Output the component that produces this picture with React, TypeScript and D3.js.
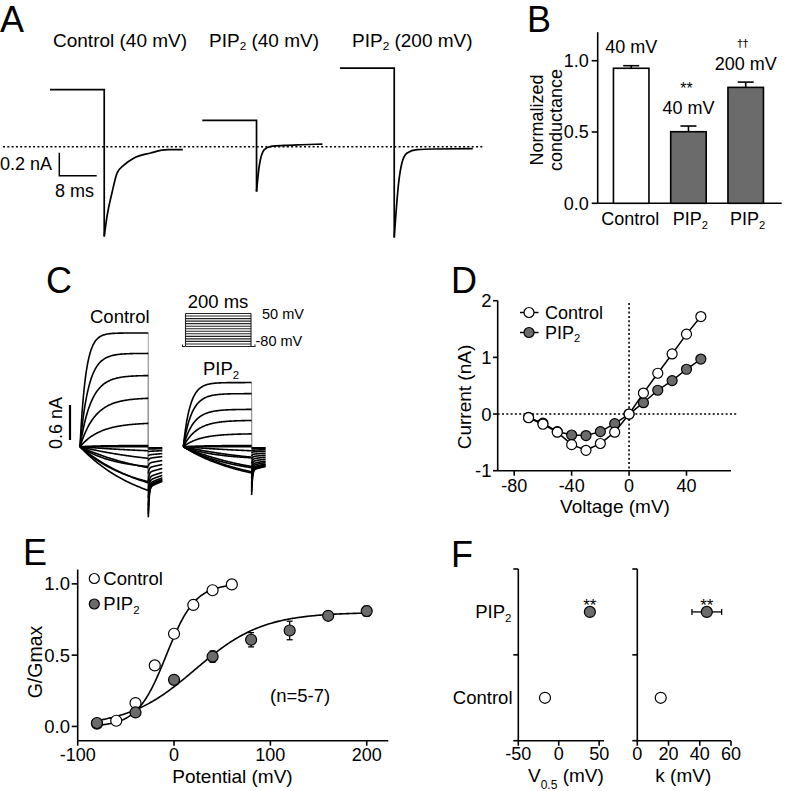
import React from 'react';
import * as d3 from 'd3';

const FONT = "'Liberation Sans', Arial, Helvetica, sans-serif";
const GRAY = '#6b6b6b';
const SW = 1.6;

// ---------------- Panel A: tail currents ----------------
const aTitleName = ['Control', 'PIP2', 'PIP2'];
const aTitleVolt = ['(40 mV)', '(40 mV)', '(200 mV)'];
const aSteadyNA = [0.496, 0.229, 0.684];
const aStepMs = [11.6, 11.6, 11.6];
const aTailMs = [
  [0, 0.58, 1.66, 2.75, 4.2, 6.3, 9.9, 13.5, 16.8],
  [0, 0.57, 1.66, 3.1, 6, 9.6, 14.1],
  [0, 0.93, 1.66, 2.75, 4.9, 8.5, 16.8],
];
const aTailNA = [
  [-0.78, -0.61, -0.4, -0.23, -0.16, -0.1, -0.055, -0.026, -0.026],
  [-0.39, -0.17, -0.026, 0.003, 0.011, 0.017, 0.023],
  [-0.79, -0.32, -0.14, -0.055, -0.026, -0.02, -0.017],
];
const aScaleNA = 0.2;
const aScaleMs = 8;

// ---------------- Panel B: normalized conductance ----------------
const bCats = ['Control', 'PIP2', 'PIP2'];
const bMeans = [0.947, 0.502, 0.813];
const bSems = [0.018, 0.04, 0.037];
const bVolt = ['40 mV', '40 mV', '200 mV'];
const bSig = ['', '**', '††'];
const bTicks = [0, 0.5, 1.0];

// ---------------- Panel C: current families ----------------
const cVolt = [-80, -70, -60, -50, -40, -30, -20, -10, 0, 10, 20, 30, 40, 50];
const cCtrlEnd = [0, -0.07, -0.2, -0.36, -0.62, -0.75, -0.6, -0.34, 0.02, 0.4, 0.83, 1.22, 1.6, 1.95];
const cCtrlTau = [300, 300, 250, 220, 200, 180, 150, 100, 60, 60, 45, 33, 25, 17];
const cCtrlTailSlow = [-0.02, -0.04, -0.08, -0.14, -0.2, -0.28, -0.36, -0.44, -0.52, -0.58, -0.63, -0.66, -0.68, -0.7];
const cCtrlTailFast = [0, 0, -0.01, -0.02, -0.04, -0.06, -0.1, -0.15, -0.22, -0.3, -0.38, -0.44, -0.48, -0.51];
const cPipEnd = [0, -0.07, -0.18, -0.34, -0.43, -0.45, -0.36, -0.19, 0.02, 0.22, 0.45, 0.64, 0.91, 1.1];
const cPipTau = [300, 300, 250, 220, 200, 180, 150, 100, 60, 50, 40, 30, 25, 20];
const cPipTailSlow = [-0.02, -0.03, -0.06, -0.09, -0.13, -0.17, -0.21, -0.25, -0.29, -0.32, -0.35, -0.37, -0.39, -0.4];
const cPipTailFast = [0, 0, -0.01, -0.02, -0.03, -0.05, -0.08, -0.12, -0.17, -0.22, -0.28, -0.33, -0.38, -0.43];
const cStepMs = 200;
const cTailMs = 41;
const cScaleNA = 0.6;

// ---------------- Panel D: I-V ----------------
const ivV = [-70, -60, -50, -40, -30, -20, -10, 0, 10, 20, 30, 40, 50];
const ivControl = [-0.065, -0.18, -0.32, -0.54, -0.64, -0.52, -0.32, 0, 0.37, 0.72, 1.06, 1.41, 1.72];
const ivPIP2 = [-0.06, -0.16, -0.31, -0.37, -0.38, -0.31, -0.17, 0, 0.2, 0.42, 0.59, 0.79, 0.97];
const dXTicks = [-80, -40, 0, 40];
const dYTicks = [-1, 0, 1, 2];

// ---------------- Panel E: G-V ----------------
const gvCtrlV = [-80, -60, -40, -20, 0, 20, 40, 60];
const gvCtrl = [0.02, 0.04, 0.164, 0.428, 0.65, 0.852, 0.955, 0.996];
const gvPipV = [-80, -40, 0, 40, 80, 120, 160, 200];
const gvPip = [0.024, 0.098, 0.327, 0.49, 0.608, 0.673, 0.776, 0.809];
const gvPipErr = [0.01, 0.01, 0.015, 0.04, 0.05, 0.065, 0.02, 0.035];
const fitCtrl = { gmax: 1, vh: -8, k: 15, from: -80, to: 60 };
const fitPip = { gmax: 0.8, vh: 22, k: 35, from: -80, to: 200 };
const eXTicks = [-100, 0, 100, 200];
const eYTicks = [0, 0.5, 1.0];

// ---------------- Panel F: Boltzmann parameters ----------------
const fCats = ['Control', 'PIP2'];
const fV05 = [-17, 38.5];
const fV05Err = [0, 3];
const fK = [15, 44.5];
const fKErr = [0, 9.5];
const fV05Ticks = [-50, 0, 50];
const fKTicks = [0, 20, 40, 60];

// ---------- helpers ----------
function PipText({ x, y, anchor = 'start', size = 18, rest = '' }: any) {
  const s = size * 0.62;
  const dy = size * 0.2;
  return (
    <text x={x} y={y} textAnchor={anchor} fontSize={size}>
      PIP
      <tspan fontSize={s} dy={dy}>2</tspan>
      {rest ? <tspan dy={-dy}>{rest}</tspan> : null}
    </text>
  );
}

function Letter({ x, y, t }: any) {
  return (
    <text x={x} y={y} fontSize={36}>
      {t}
    </text>
  );
}

function PanelA() {
  const y = d3.scaleLinear().domain([0, 1]).range([146.7, 31.7]);
  const origins = [50, 202.3, 340];
  const pxPerMs = 37.4 / 8;
  const titleX = [53, 209, 352];
  const tailLine = d3.line<[number, number]>().curve(d3.curveMonotoneX);
  return (
    <g>
      <Letter x={0} y={31.5} t="A" />
      {aTitleName.map((n, i) =>
        n === 'Control' ? (
          <text key={i} x={titleX[i]} y={46.5} fontSize={19}>
            {n} {aTitleVolt[i]}
          </text>
        ) : (
          <PipText key={i} x={titleX[i]} y={46.5} size={19} rest={' ' + aTitleVolt[i]} />
        )
      )}
      <line x1={3} x2={483} y1={y(0)} y2={y(0)} stroke="#000" strokeWidth={1.6} strokeDasharray="2 2.3" />
      {aSteadyNA.map((s, i) => {
        const x = (ms: number) => origins[i] + ms * pxPerMs;
        const T = aStepMs[i];
        const peak = aTailNA[i][0];
        const stepPath = `M${x(0)},${y(s)}L${x(T)},${y(s)}L${x(T)},${y(peak)}`;
        const pts: [number, number][] = aTailMs[i].map((t, j) => [x(T + t), y(aTailNA[i][j])]);
        return (
          <g key={i} fill="none" stroke="#000" strokeWidth={1.7}>
            <path d={stepPath} />
            <path d={tailLine(pts) || ''} />
          </g>
        );
      })}
      <path
        d={`M59.3,${175.7 - aScaleNA * 115}L59.3,175.7L${59.3 + aScaleMs * pxPerMs},175.7`}
        fill="none"
        stroke="#000"
        strokeWidth={1.5}
      />
      <text x={0} y={170} fontSize={18}>
        {aScaleNA} nA
      </text>
      <text x={55} y={196.5} fontSize={18}>
        {aScaleMs} ms
      </text>
    </g>
  );
}

function PanelB() {
  const y = d3.scaleLinear().domain([0, 1.2]).range([203.3, 32.2]);
  const x = d3.scalePoint<number>().domain([0, 1, 2]).range([631.2, 745.7]);
  const bw = 35.5;
  const ax = 597.7;
  return (
    <g>
      <Letter x={527} y={31.5} t="B" />
      <line x1={ax} x2={ax} y1={y(1.2)} y2={y(0)} stroke="#000" strokeWidth={SW} />
      <line x1={ax} x2={781.7} y1={y(0)} y2={y(0)} stroke="#000" strokeWidth={SW} />
      {bTicks.map((t) => (
        <g key={t}>
          <line x1={ax - 6} x2={ax} y1={y(t)} y2={y(t)} stroke="#000" strokeWidth={SW} />
          <text x={ax - 9} y={y(t)} dy="0.35em" textAnchor="end" fontSize={18}>
            {d3.format('.1f')(t)}
          </text>
        </g>
      ))}
      <text transform={`translate(543,120) rotate(-90)`} textAnchor="middle" fontSize={18}>
        Normalized
      </text>
      <text transform={`translate(561.5,120) rotate(-90)`} textAnchor="middle" fontSize={18}>
        conductance
      </text>
      {bMeans.map((m, i) => {
        const cx = x(i)!;
        const top = y(m + bSems[i]);
        return (
          <g key={i}>
            <line x1={cx} x2={cx} y1={y(m)} y2={top} stroke="#000" strokeWidth={SW} />
            <line x1={cx - 8} x2={cx + 8} y1={top} y2={top} stroke="#000" strokeWidth={SW} />
            <rect
              x={cx - bw / 2}
              y={y(m)}
              width={bw}
              height={y(0) - y(m)}
              fill={i === 0 ? '#fff' : GRAY}
              stroke="#000"
              strokeWidth={SW}
            />
            <text x={cx} y={top - 12.5} textAnchor="middle" fontSize={18}>
              {bVolt[i]}
            </text>
            {bSig[i] === '**' && (
              <text x={cx - 2} y={top - 32.5} textAnchor="middle" fontSize={16}>
                {bSig[i]}
              </text>
            )}
            {bSig[i] === '††' && (
              <text
                x={cx - 3}
                y={top - 35}
                textAnchor="middle"
                fontSize={11}
                fill="#000"
                fontFamily="'DejaVu Sans', sans-serif"
              >
                {bSig[i]}
              </text>
            )}
            {bCats[i] === 'Control' ? (
              <text x={cx - 1} y={225} textAnchor="middle" fontSize={18}>
                {bCats[i]}
              </text>
            ) : (
              <PipText x={cx + 2} y={225} anchor="middle" />
            )}
          </g>
        );
      })}
    </g>
  );
}

function PanelC() {
  const y = d3.scaleLinear().domain([0, 1]).range([446.7, 388.4]);
  const pxPerMs = 68.3 / 200;
  const groups = [
    { x0: 80, end: cCtrlEnd, tau: cCtrlTau, slow: cCtrlTailSlow, fast: cCtrlTailFast },
    { x0: 183.3, end: cPipEnd, tau: cPipTau, slow: cPipTailSlow, fast: cPipTailFast },
  ];
  const stepT = d3.range(0, cStepMs + 0.01, 2);
  const tailT = d3.range(0, cTailMs + 0.01, 0.5);
  const line = d3.line<[number, number]>();
  const yP = d3.scaleLinear().domain([-80, 50]).range([346.5, 313.5]);
  const pL = 185.5;
  const pR = 251;
  return (
    <g>
      <Letter x={46} y={293.3} t="C" />
      <text x={90} y={323.3} fontSize={18.5}>
        Control
      </text>
      <PipText x={203} y={375} size={18.5} />
      {/* scale bar */}
      <line x1={70} x2={70} y1={440} y2={440 - cScaleNA * 58.3} stroke="#000" strokeWidth={2.2} />
      <text transform="translate(61.5,423) rotate(-90)" textAnchor="middle" fontSize={18}>
        {cScaleNA} nA
      </text>
      {/* protocol */}
      <text x={218} y={308} textAnchor="middle" fontSize={18.5}>
        200 ms
      </text>
      <text x={262} y={318.5} fontSize={14.5}>
        50 mV
      </text>
      <text x={255.5} y={345.5} fontSize={14.5}>
        -80 mV
      </text>
      <g stroke="#222" strokeWidth={1.1} fill="none">
        {cVolt.map((v) => (
          <line key={v} x1={pL} x2={pR} y1={yP(v)} y2={yP(v)} />
        ))}
        <line x1={pL} x2={pL} y1={yP(-80)} y2={yP(50)} />
        <line x1={pR} x2={pR} y1={yP(-80)} y2={yP(50)} />
        <path d={`M182.5,${yP(-80) - 2}L182.5,${yP(-80)}L${pL},${yP(-80)}`} />
        <path d={`M${pR},${yP(-80)}L${pR + 4},${yP(-80)}L${pR + 4},${yP(-80) - 2}`} />
      </g>
      {groups.map((g, gi) => {
        const xs = (t: number) => g.x0 + t * pxPerMs;
        const xe = xs(cStepMs);
        return (
          <g key={gi}>
            {g.end.map((e, i) => (
              <line
                key={'c' + i}
                x1={xe}
                x2={xe}
                y1={y(e)}
                y2={y(g.slow[i] + g.fast[i])}
                stroke="#999"
                strokeWidth={0.9}
              />
            ))}
            {g.end.map((e, i) => {
              const tau = g.tau[i];
              const norm = 1 - Math.exp(-cStepMs / tau);
              const stepPts: [number, number][] = stepT.map((t) => [
                xs(t),
                y((e * (1 - Math.exp(-t / tau))) / norm),
              ]);
              const tailPts: [number, number][] = tailT.map((t) => [
                xe + t * pxPerMs,
                y(g.slow[i] * Math.exp(-t / 250) + g.fast[i] * Math.exp(-t / 2.5)),
              ]);
              return (
                <g key={i} fill="none" stroke="#000" strokeWidth={1.6}>
                  <path d={line(stepPts) || ''} />
                  <path d={line(tailPts) || ''} />
                </g>
              );
            })}
          </g>
        );
      })}
    </g>
  );
}

function PanelD() {
  const x = d3.scaleLinear().domain([-91.5, 71]).range([497.7, 731]);
  const y = d3.scaleLinear().domain([-1, 2]).range([470.7, 300.7]);
  const line = d3.line<number>().x((_, i) => x(ivV[i])).y((d) => y(d));
  return (
    <g>
      <Letter x={451} y={293.3} t="D" />
      <line x1={x.range()[0]} x2={737} y1={y(0)} y2={y(0)} stroke="#000" strokeWidth={1.6} strokeDasharray="2 2.3" />
      <line x1={x(0)} x2={x(0)} y1={303} y2={y(-1)} stroke="#000" strokeWidth={1.6} strokeDasharray="2 2.3" />
      <line x1={497.7} x2={497.7} y1={y(2)} y2={y(-1)} stroke="#000" strokeWidth={SW} />
      <line x1={497.7} x2={731} y1={y(-1)} y2={y(-1)} stroke="#000" strokeWidth={SW} />
      {dYTicks.map((t) => (
        <g key={t}>
          <line x1={493} x2={497.7} y1={y(t)} y2={y(t)} stroke="#000" strokeWidth={SW} />
          <text x={491.5} y={y(t)} dy="0.35em" textAnchor="end" fontSize={18.5}>
            {t}
          </text>
        </g>
      ))}
      {dXTicks.map((t) => (
        <g key={t}>
          <line x1={x(t)} x2={x(t)} y1={y(-1)} y2={y(-1) + 5} stroke="#000" strokeWidth={SW} />
          <text x={x(t)} y={491.5} textAnchor="middle" fontSize={18}>
            {t}
          </text>
        </g>
      ))}
      <text x={615} y={513} textAnchor="middle" fontSize={19}>
        Voltage (mV)
      </text>
      <text transform="translate(471,397) rotate(-90)" textAnchor="middle" fontSize={19}>
        Current (nA)
      </text>
      <path d={line(ivPIP2) || ''} fill="none" stroke="#000" strokeWidth={1.5} />
      {ivPIP2.map((d, i) => (
        <circle key={'p' + i} cx={x(ivV[i])} cy={y(d)} r={5} fill={GRAY} stroke="#000" strokeWidth={1.2} />
      ))}
      <path d={line(ivControl) || ''} fill="none" stroke="#000" strokeWidth={1.5} />
      {ivControl.map((d, i) => (
        <circle key={'c' + i} cx={x(ivV[i])} cy={y(d)} r={5} fill="#fff" stroke="#000" strokeWidth={1.2} />
      ))}
      {/* legend */}
      <line x1={520} x2={538.5} y1={312.5} y2={312.5} stroke="#000" strokeWidth={1.5} />
      <circle cx={529} cy={312.5} r={5} fill="#fff" stroke="#000" strokeWidth={1.2} />
      <text x={545} y={318.5} fontSize={18}>
        Control
      </text>
      <line x1={520} x2={538.5} y1={332.5} y2={332.5} stroke="#000" strokeWidth={1.5} />
      <circle cx={529} cy={332.5} r={5} fill={GRAY} stroke="#000" strokeWidth={1.2} />
      <PipText x={545} y={338.5} />
    </g>
  );
}

function boltz(p: any, v: number) {
  return p.gmax / (1 + Math.exp(-(v - p.vh) / p.k));
}

function PanelE() {
  const x = d3.scaleLinear().domain([-100, 222.4]).range([77.7, 388.3]);
  const y = d3.scaleLinear().domain([-0.1, 1.1]).range([740.7, 569.6]);
  const curve = (p: any) =>
    d3
      .line<number>()
      .x((v) => x(v))
      .y((v) => y(boltz(p, v)))(d3.range(p.from, p.to + 0.01, 1)) || '';
  return (
    <g>
      <Letter x={23} y={565} t="E" />
      <line x1={77.7} x2={77.7} y1={y(1.1)} y2={y(-0.1)} stroke="#000" strokeWidth={SW} />
      <line x1={77.7} x2={388.3} y1={y(-0.1)} y2={y(-0.1)} stroke="#000" strokeWidth={SW} />
      {eYTicks.map((t) => (
        <g key={t}>
          <line x1={71.7} x2={77.7} y1={y(t)} y2={y(t)} stroke="#000" strokeWidth={SW} />
          <text x={70} y={y(t)} dy="0.35em" textAnchor="end" fontSize={18.5}>
            {d3.format('.1f')(t)}
          </text>
        </g>
      ))}
      {eXTicks.map((t) => (
        <g key={t}>
          <line x1={x(t)} x2={x(t)} y1={y(-0.1)} y2={y(-0.1) + 5} stroke="#000" strokeWidth={SW} />
          <text x={x(t)} y={760.5} textAnchor="middle" fontSize={18}>
            {t}
          </text>
        </g>
      ))}
      <text x={232.5} y={782.5} textAnchor="middle" fontSize={19}>
        Potential (mV)
      </text>
      <text transform="translate(41.5,662) rotate(-90)" textAnchor="middle" fontSize={19.5}>
        G/Gmax
      </text>
      <path d={curve(fitCtrl)} fill="none" stroke="#000" strokeWidth={1.6} />
      <path d={curve(fitPip)} fill="none" stroke="#000" strokeWidth={1.6} />
      {gvCtrl.map((d, i) => (
        <circle key={'c' + i} cx={x(gvCtrlV[i])} cy={y(d)} r={5.5} fill="#fff" stroke="#000" strokeWidth={1.2} />
      ))}
      {gvPip.map((d, i) => {
        const cx = x(gvPipV[i]);
        const e = gvPipErr[i];
        return (
          <g key={'p' + i} stroke="#000" strokeWidth={1.3}>
            <line x1={cx} x2={cx} y1={y(d - e)} y2={y(d + e)} />
            <line x1={cx - 3} x2={cx + 3} y1={y(d - e)} y2={y(d - e)} />
            <line x1={cx - 3} x2={cx + 3} y1={y(d + e)} y2={y(d + e)} />
            <circle cx={cx} cy={y(d)} r={5.5} fill={GRAY} strokeWidth={1.2} />
          </g>
        );
      })}
      <circle cx={94.3} cy={578.5} r={5} fill="#fff" stroke="#000" strokeWidth={1.2} />
      <text x={103.3} y={584.5} fontSize={18.5}>
        Control
      </text>
      <circle cx={94.3} cy={604} r={5} fill={GRAY} stroke="#000" strokeWidth={1.2} />
      <PipText x={103.3} y={610} size={18.5} />
      <text x={270} y={701.7} fontSize={18.5}>
        (n=5-7)
      </text>
    </g>
  );
}

function PanelF() {
  const y = d3.scaleLinear().domain([0, 2]).range([740.7, 569]);
  const catY = (i: number) => y(i + 0.5);
  const x1 = d3.scaleLinear().domain([-50, 56]).range([518.3, 604]);
  const x2 = d3.scaleLinear().domain([0, 60]).range([637.3, 731]);
  const panels = [
    { x: x1, vals: fV05, errs: fV05Err, ticks: fV05Ticks },
    { x: x2, vals: fK, errs: fKErr, ticks: fKTicks },
  ];
  return (
    <g>
      <Letter x={451} y={567} t="F" />
      {fCats.map((c, i) =>
        c === 'Control' ? (
          <text key={c} x={512.5} y={catY(i)} dy="0.35em" textAnchor="end" fontSize={18.5}>
            {c}
          </text>
        ) : (
          <PipText key={c} x={511.5} y={catY(i) + 6.3} anchor="end" size={18.5} />
        )
      )}
      {panels.map((p, pi) => {
        const [r0, r1] = p.x.range();
        return (
          <g key={pi}>
            <line x1={r0} x2={r0} y1={y(2)} y2={y(0)} stroke="#000" strokeWidth={SW} />
            <line x1={r0} x2={r1} y1={y(0)} y2={y(0)} stroke="#000" strokeWidth={SW} />
            {[0, 1, 2].map((t) => (
              <line key={t} x1={r0 - 5} x2={r0} y1={y(t)} y2={y(t)} stroke="#000" strokeWidth={SW} />
            ))}
            {p.ticks.map((t) => (
              <g key={t}>
                <line x1={p.x(t)} x2={p.x(t)} y1={y(0)} y2={y(0) + 5} stroke="#000" strokeWidth={SW} />
                <text x={p.x(t)} y={759.5} textAnchor="middle" fontSize={18}>
                  {t}
                </text>
              </g>
            ))}
            {p.vals.map((v, i) => {
              const cy = catY(i);
              const e = p.errs[i];
              const cx = p.x(v);
              return (
                <g key={i} stroke="#000">
                  {e > 0 && (
                    <g strokeWidth={1.3}>
                      <line x1={p.x(v - e)} x2={p.x(v + e)} y1={cy} y2={cy} />
                      <line x1={p.x(v - e)} x2={p.x(v - e)} y1={cy - 3} y2={cy + 3} />
                      <line x1={p.x(v + e)} x2={p.x(v + e)} y1={cy - 3} y2={cy + 3} />
                    </g>
                  )}
                  <circle cx={cx} cy={cy} r={5.5} fill={i === 0 ? '#fff' : GRAY} strokeWidth={1.2} />
                  {i === 1 && (
                    <text x={cx} y={610.5} textAnchor="middle" fontSize={17} stroke="none">
                      **
                    </text>
                  )}
                </g>
              );
            })}
          </g>
        );
      })}
      <text x={528} y={781.5} fontSize={19}>
        V<tspan fontSize={12} dy={7}>0.5</tspan>
        <tspan dy={-7}> (mV)</tspan>
      </text>
      <text x={683.3} y={781.5} textAnchor="middle" fontSize={19}>
        k (mV)
      </text>
    </g>
  );
}

export default function App() {
  return (
    <svg
      width={787}
      height={791}
      style={{ position: 'absolute', left: 0, top: 0, background: '#fff' }}
      fontFamily={FONT}
    >
      <rect width={787} height={791} fill="#fff" />
      <PanelA />
      <PanelB />
      <PanelC />
      <PanelD />
      <PanelE />
      <PanelF />
    </svg>
  );
}
